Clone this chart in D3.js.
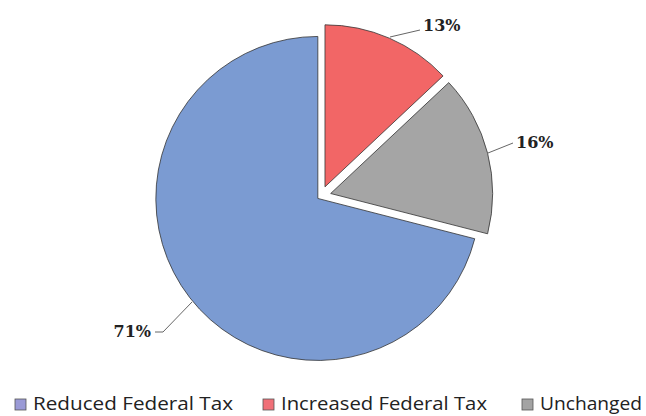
<!DOCTYPE html>
<html>
<head>
<meta charset="utf-8">
<script src="https://cdn.jsdelivr.net/npm/d3@7"></script>
<style>
  body { margin: 0; background: #fff; }
</style>
</head>
<body>
<div id="chart"></div>
<script>
// chart data
const categories = ["Reduced Federal Tax", "Increased Federal Tax", "Unchanged"];
const shares = [71, 13, 16];
const labels = ["71%", "13%", "16%"];
const colors = ["#7b9bd2", "#f26666", "#a5a5a5"];
const legendColors = ["#9a9ad6", "#f07078", "#a3a3a3"];

const width = 646;
const height = 416;
const cx = 321, cy = 196, radius = 162;
// how far each slice is pulled out of the pie
const explode = [4, 10, 10];

const svg = d3.select("#chart")
  .append("svg")
  .attr("width", width)
  .attr("height", height);

// order: red and gray run clockwise from 12 o'clock, blue takes the rest
const order = [1, 2, 0];
const pie = d3.pie().sort(null).value(i => shares[i]);
const arcs = pie(order);

const arc = d3.arc().innerRadius(0).outerRadius(radius);

const g = svg.append("g").attr("transform", `translate(${cx},${cy})`);

g.selectAll("path")
  .data(arcs)
  .enter()
  .append("path")
  .attr("d", arc)
  .attr("fill", d => colors[d.data])
  .attr("stroke", "#333")
  .attr("stroke-width", 0.8)
  .attr("transform", d => {
    const mid = (d.startAngle + d.endAngle) / 2;
    const e = explode[d.data];
    return `translate(${Math.sin(mid) * e},${-Math.cos(mid) * e})`;
  });

// data labels with leader lines
const labelPos = [
  { line: [[-129, 106], [-158, 136], [-166, 136]], x: -170, y: 136, anchor: "end" },
  { line: [[69, -159], [99, -166]], x: 102, y: -170, anchor: "start" },
  { line: [[167, -43], [192, -53]], x: 195, y: -53, anchor: "start" }
];

labelPos.forEach((p, i) => {
  g.append("path")
    .attr("d", d3.line()(p.line))
    .attr("fill", "none")
    .attr("stroke", "#666")
    .attr("stroke-width", 1);
  g.append("text")
    .attr("x", p.x)
    .attr("y", p.y)
    .attr("text-anchor", p.anchor)
    .attr("dominant-baseline", "middle")
    .attr("font-family", "DejaVu Serif, serif")
    .attr("font-weight", "bold")
    .attr("font-size", 16)
    .attr("fill", "#222")
    .text(labels[i]);
});

// legend
const legendX = [15, 263, 522];
const legendW = [200, 206, 102];
const legend = svg.append("g");
categories.forEach((c, i) => {
  legend.append("rect")
    .attr("x", legendX[i])
    .attr("y", 399)
    .attr("width", 11)
    .attr("height", 11)
    .attr("fill", legendColors[i])
    .attr("stroke", "#555")
    .attr("stroke-width", 0.8);
  legend.append("text")
    .attr("x", legendX[i] + 18)
    .attr("y", 410)
    .attr("font-family", "Open Sans, sans-serif")
    .attr("font-size", 18)
    .attr("textLength", legendW[i])
    .attr("lengthAdjust", "spacingAndGlyphs")
    .attr("fill", "#222")
    .text(c);
});
</script>
</body>
</html>
